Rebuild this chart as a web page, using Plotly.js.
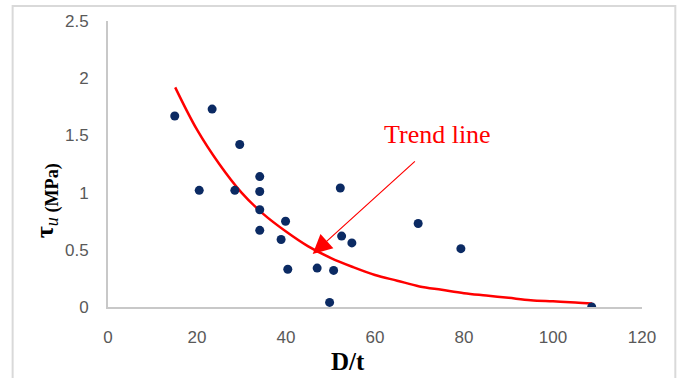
<!DOCTYPE html>
<html>
<head>
<meta charset="utf-8">
<script src="https://cdn.plot.ly/plotly-3.0.1.min.js"></script>
<style>
  html, body { margin: 0; padding: 0; background: #ffffff; }
  #chart { width: 682px; height: 378px; }
</style>
</head>
<body>
<div id="chart"></div>
<script>
// Measured specimens: D/t ratio and ultimate bond stress tau_u (MPa)
const dtRatio = [15.0, 23.4, 29.6, 20.5, 28.5, 34.1, 34.1, 34.1, 34.1, 39.9, 38.9,
                 52.2, 52.5, 54.8, 40.4, 47.0, 50.7, 49.8, 69.7, 79.3, 108.7];
const tauU    = [1.67, 1.73, 1.42, 1.02, 1.02, 1.14, 1.01, 0.85, 0.67, 0.75, 0.59,
                 1.04, 0.62, 0.56, 0.33, 0.34, 0.32, 0.04, 0.73, 0.51, 0.00];

// Trend line
const trendX = [15.1, 20, 25, 30, 35, 40, 45, 50, 55, 60, 65, 70, 75, 80, 85, 90, 95, 100, 105, 108.8];
const trendY = [1.92, 1.55, 1.25, 1.00, 0.81, 0.66, 0.53, 0.43, 0.35, 0.28, 0.23, 0.18, 0.15, 0.12, 0.10, 0.08, 0.06, 0.05, 0.04, 0.03];

const xTicks = [0, 20, 40, 60, 80, 100, 120];
const yTicks = [0, 0.5, 1, 1.5, 2, 2.5];
const yTickLabels = ['0', '0.5', '1', '1.5', '2', '2.5'];

const traces = [
  {
    x: trendX, y: trendY, type: 'scatter', mode: 'lines',
    line: { color: '#ff0000', width: 2.5, shape: 'spline' },
    hoverinfo: 'skip', showlegend: false
  },
  {
    x: dtRatio, y: tauU, type: 'scatter', mode: 'markers',
    marker: { color: '#0b2a63', size: 9 },
    showlegend: false
  }
];

const tickFont = { family: 'Liberation Sans, Arial, sans-serif', size: 17, color: '#595959' };

const layout = {
  width: 682, height: 378,
  margin: { l: 108, r: 40, t: 21, b: 71 },
  paper_bgcolor: '#ffffff', plot_bgcolor: '#ffffff',
  showlegend: false,
  xaxis: {
    range: [0, 120], tickvals: xTicks, ticktext: xTicks.map(String),
    showgrid: false, zeroline: false, showline: true,
    linecolor: '#c8c8c8', linewidth: 2, ticks: '',
    ticklabelstandoff: 14,
    tickfont: tickFont, fixedrange: true
  },
  yaxis: {
    range: [0, 2.5], tickvals: yTicks, ticktext: yTickLabels,
    showgrid: false, zeroline: false, showline: true,
    linecolor: '#c8c8c8', linewidth: 2, ticks: '',
    ticklabelstandoff: 14,
    tickfont: tickFont, fixedrange: true
  },
  shapes: [
    { type: 'rect', xref: 'paper', yref: 'paper',
      x0: -0.1786, x1: 1.0624, y0: -0.30, y1: 1.0524,
      line: { color: '#d9d9d9', width: 2 }, fillcolor: 'rgba(0,0,0,0)' }
  ],
  annotations: [
    { xref: 'paper', yref: 'paper', x: 0.449, y: -0.189,
      xanchor: 'center', yanchor: 'middle', showarrow: false,
      text: '<b>D/t</b>',
      font: { family: 'Liberation Serif, Times New Roman, serif', size: 25, color: '#000000' } },
    { xref: 'paper', yref: 'paper', x: -0.116, y: 0.37,
      xanchor: 'center', yanchor: 'middle', showarrow: false, textangle: -90,
      text: '<b>τ</b><sub><i>u</i> <b>(MPa)</b></sub>',
      font: { family: 'Liberation Serif, Times New Roman, serif', size: 26, color: '#000000' } },
    { xref: 'x', yref: 'y', x: 74.1, y: 1.512, showarrow: false,
      xanchor: 'center', yanchor: 'middle',
      text: 'Trend line',
      font: { family: 'Liberation Serif, Times New Roman, serif', size: 26, color: '#ff0000' } },
    { xref: 'x', yref: 'y', x: 46.0, y: 0.463,
      axref: 'x', ayref: 'y', ax: 69.3, ay: 1.285,
      text: '', showarrow: true, arrowhead: 2, arrowsize: 3.2, arrowwidth: 1.2,
      arrowcolor: '#ff0000', standoff: 0 }
  ]
};

Plotly.newPlot('chart', traces, layout, { displayModeBar: false, staticPlot: true });
</script>
</body>
</html>
